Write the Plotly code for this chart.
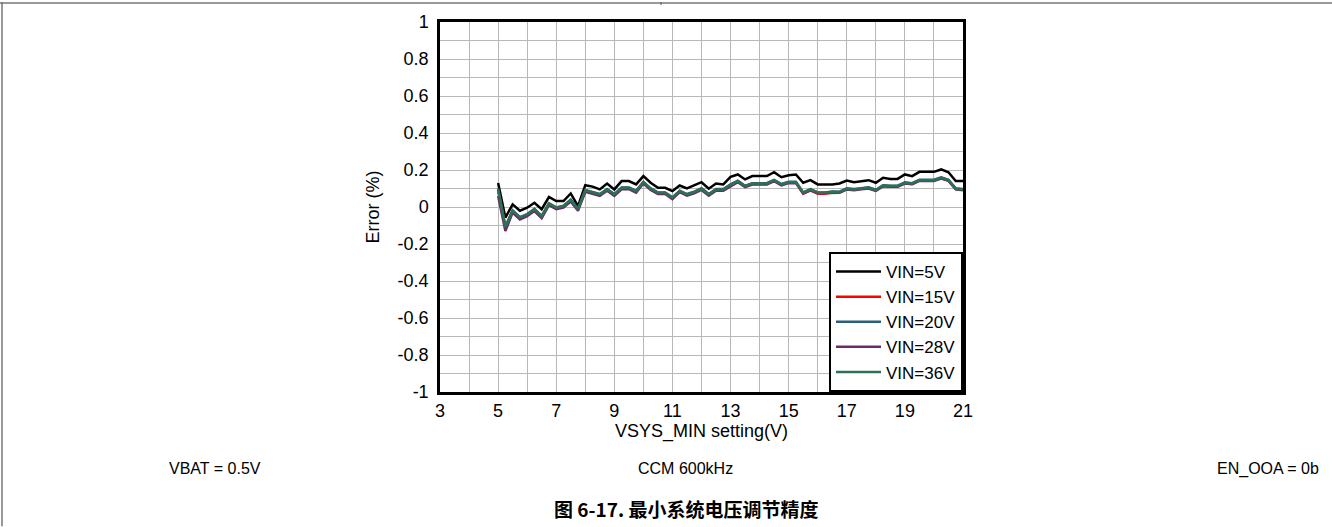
import plotly.graph_objects as go

vsys = [5.0, 5.25, 5.5, 5.75, 6.0, 6.25, 6.5, 6.75, 7.0, 7.25, 7.5, 7.75, 8.0, 8.25, 8.5, 8.75,
        9.0, 9.25, 9.5, 9.75, 10.0, 10.25, 10.5, 10.75, 11.0, 11.25, 11.5, 11.75, 12.0, 12.25, 12.5, 12.75,
        13.0, 13.25, 13.5, 13.75, 14.0, 14.25, 14.5, 14.75, 15.0, 15.25, 15.5, 15.75, 16.0, 16.25, 16.5, 16.75,
        17.0, 17.25, 17.5, 17.75, 18.0, 18.25, 18.5, 18.75, 19.0, 19.25, 19.5, 19.75, 20.0, 20.25, 20.5, 20.75, 21.0]

vin5 = [0.13, -0.057, 0.014, -0.02, -0.004, 0.023, -0.012, 0.054, 0.032, 0.032, 0.073, 0.005, 0.118, 0.11, 0.095, 0.127,
        0.095, 0.14, 0.14, 0.122, 0.167, 0.131, 0.104, 0.104, 0.086, 0.116, 0.10, 0.116, 0.134, 0.099, 0.127, 0.122,
        0.163, 0.176, 0.149, 0.167, 0.167, 0.167, 0.188, 0.161, 0.172, 0.176, 0.131, 0.145, 0.122, 0.122, 0.122, 0.127,
        0.143, 0.134, 0.14, 0.145, 0.131, 0.158, 0.152, 0.152, 0.176, 0.167, 0.19, 0.19, 0.19, 0.203, 0.188, 0.14, 0.14]

vin15 = [0.09, -0.11, -0.022, -0.06, -0.042, -0.014, -0.052, 0.016, -0.006, 0.003, 0.036, -0.014, 0.088, 0.075, 0.066, 0.093,
         0.066, 0.102, 0.102, 0.084, 0.132, 0.097, 0.075, 0.075, 0.048, 0.084, 0.066, 0.079, 0.097, 0.066, 0.093, 0.093,
         0.118, 0.138, 0.111, 0.125, 0.125, 0.125, 0.143, 0.12, 0.132, 0.132, 0.072, 0.09, 0.072, 0.072, 0.078, 0.078,
         0.097, 0.093, 0.098, 0.102, 0.089, 0.114, 0.111, 0.111, 0.129, 0.125, 0.143, 0.143, 0.143, 0.156, 0.143, 0.097, 0.093]

vin20 = [0.1, -0.105, -0.018, -0.055, -0.038, -0.01, -0.048, 0.02, -0.002, 0.007, 0.04, -0.01, 0.092, 0.079, 0.07, 0.097,
         0.07, 0.106, 0.106, 0.088, 0.136, 0.101, 0.079, 0.079, 0.052, 0.088, 0.07, 0.083, 0.101, 0.07, 0.097, 0.097,
         0.122, 0.142, 0.115, 0.129, 0.129, 0.129, 0.147, 0.124, 0.136, 0.136, 0.079, 0.097, 0.079, 0.079, 0.084, 0.083,
         0.101, 0.097, 0.102, 0.106, 0.093, 0.118, 0.115, 0.115, 0.133, 0.129, 0.147, 0.147, 0.147, 0.16, 0.147, 0.101, 0.097]

vin28 = [0.06, -0.13, -0.03, -0.068, -0.05, -0.022, -0.06, 0.01, -0.012, -0.003, 0.03, -0.02, 0.082, 0.07, 0.06, 0.088,
         0.06, 0.096, 0.097, 0.078, 0.127, 0.092, 0.07, 0.07, 0.043, 0.08, 0.061, 0.074, 0.092, 0.061, 0.088, 0.088,
         0.113, 0.134, 0.107, 0.121, 0.121, 0.121, 0.14, 0.117, 0.129, 0.129, 0.073, 0.09, 0.074, 0.074, 0.078, 0.077,
         0.095, 0.091, 0.096, 0.1, 0.087, 0.112, 0.109, 0.109, 0.127, 0.123, 0.141, 0.141, 0.141, 0.154, 0.141, 0.095, 0.091]

vin36 = [0.095, -0.108, -0.02, -0.057, -0.04, -0.012, -0.05, 0.018, -0.004, 0.005, 0.038, -0.012, 0.09, 0.077, 0.068, 0.095,
         0.068, 0.104, 0.104, 0.086, 0.134, 0.099, 0.077, 0.077, 0.05, 0.086, 0.068, 0.081, 0.099, 0.068, 0.095, 0.095,
         0.12, 0.14, 0.113, 0.127, 0.127, 0.127, 0.145, 0.122, 0.134, 0.134, 0.077, 0.095, 0.077, 0.077, 0.082, 0.081,
         0.099, 0.095, 0.1, 0.104, 0.091, 0.116, 0.113, 0.113, 0.131, 0.127, 0.145, 0.145, 0.145, 0.158, 0.145, 0.099, 0.095]

series = [("VIN=5V", vin5, "#000000"),
          ("VIN=15V", vin15, "#ff0000"),
          ("VIN=20V", vin20, "#2b5e7e"),
          ("VIN=28V", vin28, "#6b2c69"),
          ("VIN=36V", vin36, "#2e7152")]

x_ticks = [3, 5, 7, 9, 11, 13, 15, 17, 19, 21]
y_ticks = [1, 0.8, 0.6, 0.4, 0.2, 0, -0.2, -0.4, -0.6, -0.8, -1]
y_tick_text = ["1", "0.8", "0.6", "0.4", "0.2", "0", "-0.2", "-0.4", "-0.6", "-0.8", "-1"]

FONT = "Liberation Sans, Arial, sans-serif"

fig = go.Figure()
for name, vals, col in series:
    fig.add_trace(go.Scatter(x=vsys, y=vals, mode="lines", name=name,
                             line=dict(color=col, width=2.5)))

# plot area in pixels
L, R, T, B = 440, 963, 20, 392
W, H = 1332, 527
pw, ph = R - L, B - T

def px(xp):
    return (xp - L) / pw

def py(yp):
    return (B - yp) / ph

fig.update_layout(
    width=W, height=H,
    margin=dict(l=L, r=W - R, t=T, b=H - B, pad=0),
    paper_bgcolor="white", plot_bgcolor="white",
    font=dict(family=FONT, size=16, color="black"),
    showlegend=True,
    legend=dict(x=1, y=0, xanchor="right", yanchor="bottom",
                bgcolor="white", bordercolor="black", borderwidth=2,
                font=dict(size=17, family=FONT), tracegroupgap=0,
                itemwidth=45),
    xaxis=dict(range=[3, 21], tickvals=x_ticks, ticktext=[str(v) for v in x_ticks],
               showgrid=True, gridcolor="#b8b8b8", gridwidth=1,
               minor=dict(dtick=1, showgrid=True, gridcolor="#b8b8b8", gridwidth=1),
               showline=True, linecolor="black", linewidth=2.5, mirror=True,
               zeroline=False, ticks="", tickfont=dict(size=18), ticklabelstandoff=1,
               title=dict(text="VSYS_MIN setting(V)", font=dict(size=18), standoff=1)),
    yaxis=dict(range=[-1, 1], tickvals=y_ticks, ticktext=y_tick_text,
               showgrid=True, gridcolor="#b8b8b8", gridwidth=1,
               minor=dict(dtick=0.1, showgrid=True, gridcolor="#b8b8b8", gridwidth=1),
               showline=True, linecolor="black", linewidth=2.5, mirror=True,
               zeroline=False, ticks="", tickfont=dict(size=18), ticklabelstandoff=5,
               title=dict(text="Error (%)", font=dict(size=18), standoff=14)),
)

# page frame lines
fig.add_shape(type="line", xref="paper", yref="paper", x0=px(0), x1=px(W), y0=py(1), y1=py(1),
              line=dict(color="#777777", width=1.5))
fig.add_shape(type="line", xref="paper", yref="paper", x0=px(2), x1=px(2), y0=py(0), y1=py(H),
              line=dict(color="#777777", width=1.5))
fig.add_shape(type="line", xref="paper", yref="paper", x0=px(661), x1=px(661), y0=py(0), y1=py(3),
              line=dict(color="#555555", width=1))

ann = [("VBAT = 0.5V", 215, 469, "center"),
       ("CCM 600kHz", 685, 469, "center"),
       ("EN_OOA = 0b", 1321, 469, "right")]
for text, xp_, yp_, anc in ann:
    fig.add_annotation(text=text, xref="paper", yref="paper", x=px(xp_), y=py(yp_),
                       xanchor=anc, yanchor="middle", showarrow=False,
                       font=dict(size=16, family=FONT, color="black"))

fig.add_annotation(text="<b>图 6-17. 最小系统电压调节精度</b>", xref="paper", yref="paper",
                   x=px(686), y=py(509), xanchor="center", yanchor="middle", showarrow=False,
                   font=dict(size=19, family="Noto Sans CJK SC, Liberation Sans", color="black"))

fig.write_html("out.html")
